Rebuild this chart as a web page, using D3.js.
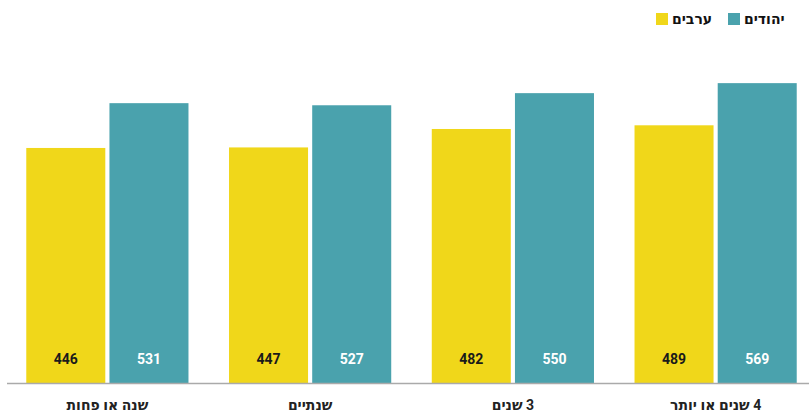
<!DOCTYPE html>
<html lang="he">

<head>
  <meta charset="UTF-8">
  <title>ערבים / יהודים</title>
  <style>
    body { margin: 0; background: #fff; }
    text { font-family: Roboto, 'DejaVu Sans', sans-serif; font-weight: bold; }
  </style>
</head>

<body>
  <script src="https://cdn.jsdelivr.net/npm/d3@7"></script>
  <script>
    const categories = ['שנה או פחות', 'שנתיים', '3 שנים', '4 שנים או יותר'];
    const seriesNames = ['ערבים', 'יהודים'];
    const arabs = [446, 447, 482, 489];
    const jews = [531, 527, 550, 569];

    const width = 809, height = 417;
    const baseline = 383;
    const colors = ['#F0D71A', '#4AA2AD'];
    const labelColors = ['#1a1a1a', '#ffffff'];

    const svg = d3.select('body').append('svg')
      .attr('width', width)
      .attr('height', height);

    // scales
    const x = d3.scaleBand().domain(categories).range([6, 817])
      .paddingInner(0.2).paddingOuter(0.1);
    const xSub = d3.scaleBand().domain(seriesNames).range([0, x.bandwidth()]).paddingInner(0.05);
    const y = d3.scaleLinear().domain([0, 600]).range([baseline, baseline - 600 * 0.527]);

    const rows = categories.map((c, i) => ({ cat: c, vals: [arabs[i], jews[i]] }));

    // bars
    const groups = svg.append('g').selectAll('g').data(rows).join('g')
      .attr('transform', d => `translate(${x(d.cat)},0)`);

    groups.selectAll('rect').data(d => d.vals.map((v, k) => ({ k, v })))
      .join('rect')
      .attr('x', d => xSub(seriesNames[d.k]))
      .attr('y', d => y(d.v))
      .attr('width', xSub.bandwidth())
      .attr('height', d => y(0) - y(d.v))
      .attr('fill', d => colors[d.k]);

    groups.selectAll('text').data(d => d.vals.map((v, k) => ({ k, v })))
      .join('text')
      .attr('x', d => xSub(seriesNames[d.k]) + xSub.bandwidth() / 2)
      .attr('y', baseline - 19)
      .attr('text-anchor', 'middle')
      .attr('font-size', 14)
      .attr('fill', d => labelColors[d.k])
      .text(d => d.v);

    // x axis (hebrew labels, right-to-left)
    const xAxis = d3.axisBottom(x).tickSize(0).tickPadding(17);
    svg.append('g')
      .attr('transform', `translate(0,${baseline})`)
      .call(xAxis)
      .call(g => g.select('.domain').remove())
      .call(g => g.selectAll('text')
        .attr('font-size', 14)
        .attr('font-family', "Roboto, 'DejaVu Sans', sans-serif")
        .attr('direction', 'rtl')
        .attr('fill', '#222'));

    svg.append('line')
      .attr('x1', 7).attr('x2', width)
      .attr('y1', baseline + 0.5).attr('y2', baseline + 0.5)
      .attr('stroke', '#aaa')
      .attr('stroke-width', 1.5);

    // legend
    const legendPos = [656, 728];
    const legend = svg.append('g').selectAll('g').data(seriesNames).join('g')
      .attr('transform', (d, i) => `translate(${legendPos[i]},13)`);
    legend.append('rect')
      .attr('width', 12).attr('height', 12)
      .attr('fill', (d, i) => colors[i]);
    legend.append('text')
      .attr('x', 16).attr('y', 11)
      .attr('font-size', 14)
      .attr('fill', '#111')
      .text(d => d);
  </script>
</body>

</html>
